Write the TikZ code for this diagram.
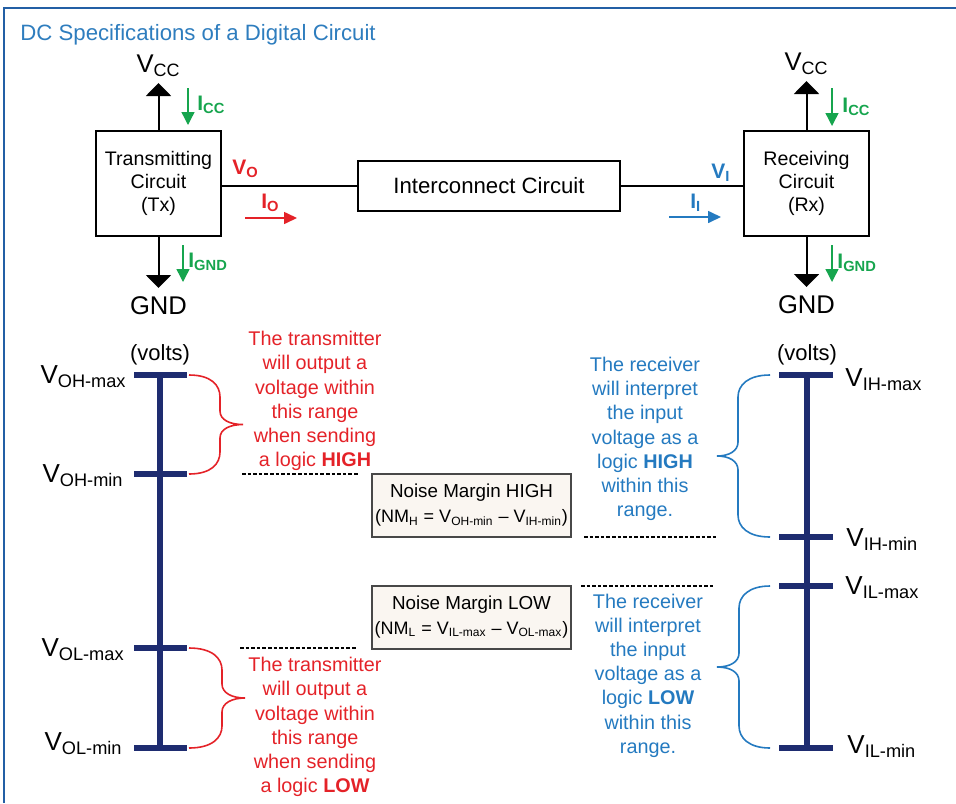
\documentclass[tikz,border=0pt]{standalone}
\usepackage{fontspec}
\setmainfont{Liberation Sans}
\usepackage{xcolor}
\usetikzlibrary{positioning, arrows.meta}

\definecolor{titleblue}{RGB}{46,125,190}
\definecolor{frameblue}{RGB}{35,95,165}
\definecolor{txred}{RGB}{228,34,40}
\definecolor{rxblue}{RGB}{36,122,192}
\definecolor{curgreen}{RGB}{22,165,78}
\definecolor{barnavy}{RGB}{30,44,112}
\definecolor{marginfill}{RGB}{250,246,241}
\definecolor{margindraw}{RGB}{72,72,72}

\newcommand{\subtxt}[1]{\textsubscript{#1}}

\begin{document}
\begin{tikzpicture}[x=0.5pt, y=-0.5pt]
	% Define styles
	\tikzset{
		block/.style={rectangle, draw, line width=1pt, align=center, inner sep=0pt, minimum width=62.5pt, minimum height=52.5pt, font=\fontsize{9.8}{11.5}\selectfont},
		wire/.style={draw, line width=1pt},
		rail/.style={draw, line width=1pt, -{Triangle[length=6.5pt, width=12.5pt]}},
		railtext/.style={inner sep=1pt, font=\fontsize{12.8}{14}\selectfont},
		cur/.style={draw, curgreen, line width=0.7pt, -{Triangle[length=6.5pt, width=6.5pt]}},
		curtext/.style={inner sep=0pt, curgreen, font=\fontsize{10.5}{12}\selectfont\bfseries},
		flow/.style={draw, line width=0.8pt, -{Triangle[length=6.5pt, width=6pt]}},
		scalebar/.style={draw, barnavy, line width=2.8pt},
		scaletext/.style={inner sep=0pt, font=\fontsize{13}{15}\selectfont},
		voltstext/.style={inner sep=0pt, font=\fontsize{11}{13}\selectfont},
		txnote/.style={align=center, inner sep=0pt, font=\fontsize{9.9}{12.1}\selectfont},
		rangebrace/.style={draw, line width=0.8pt},
		dashlevel/.style={draw, line width=1.2pt, dash pattern=on 1.8pt off 1pt},
		marginbox/.style={rectangle, draw=margindraw, fill=marginfill, line width=1pt, align=center, inner sep=0pt, minimum width=99.5pt, minimum height=31.5pt, font=\fontsize{9.4}{12.5}\selectfont}
	}
	\useasboundingbox (0,0) rectangle (956,803);
	
	% Frame and title
	\draw[frameblue, line width=1pt] (4,803) -- (4,8) -- (956,8);
	\node[anchor=base west, inner sep=0pt, titleblue, font=\fontsize{11.1}{13}\selectfont] (title) at (20,40) {DC Specifications of a Digital Circuit};
	
	% Nodes
	\node[block] (tx) at (158.5,183.5) {Transmitting\\Circuit\\(Tx)};
	\node[block, minimum width=131pt, minimum height=25pt, font=\fontsize{11.1}{13}\selectfont] (ic) at (489,186) {Interconnect Circuit};
	\node[block] (rx) at (806.5,183.5) {Receiving\\Circuit\\(Rx)};
	
	\coordinate (txvcc) at (158.5,83);
	\coordinate (txgnd) at (158.5,288);
	\coordinate (rxvcc) at (806.5,81);
	\coordinate (rxgnd) at (806.5,287);
	
	\node[railtext, above=2pt of txvcc] (txvcclbl) {V\subtxt{CC}};
	\node[railtext, below=3pt of txgnd] (txgndlbl) {GND};
	\node[railtext, above=2pt of rxvcc] (rxvcclbl) {V\subtxt{CC}};
	\node[railtext, below=3pt of rxgnd] (rxgndlbl) {GND};
	
	\coordinate (txicca) at (188,88);
	\coordinate (txiccb) at (188,125);
	\coordinate (txignda) at (183,245);
	\coordinate (txigndb) at (183,282);
	\coordinate (rxicca) at (832,88);
	\coordinate (rxiccb) at (832,126);
	\coordinate (rxignda) at (832,245);
	\coordinate (rxigndb) at (832,282);
	
	\node[curtext, anchor=base west] (txicc) at (197,110) {I\subtxt{CC}};
	\node[curtext, anchor=base west] (txignd) at (188,267) {I\subtxt{GND}};
	\node[curtext, anchor=base west] (rxicc) at (842,112) {I\subtxt{CC}};
	\node[curtext, anchor=base west] (rxignd) at (837,268) {I\subtxt{GND}};
	
	\coordinate (ioa) at (245,218);
	\coordinate (iob) at (297,218);
	\coordinate (iia) at (669,217);
	\coordinate (iib) at (721,217);
	
	\node[curtext, txred, anchor=base west] (vo) at (232,174) {V\subtxt{O}};
	\node[curtext, txred, anchor=base west] (io) at (261,208) {I\subtxt{O}};
	\node[curtext, rxblue, anchor=base west] (vi) at (711,178) {V\subtxt{I}};
	\node[curtext, rxblue, anchor=base west] (ii) at (690,208) {I\subtxt{I}};
	
	% Arrows
	\draw[wire] (tx.east |- ic.west) -- (ic.west);
	\draw[wire] (ic.east) -- (ic.east -| rx.west);
	
	\draw[rail] (tx.north) -- (txvcc);
	\draw[rail] (tx.south) -- (txgnd);
	\draw[rail] (rx.north) -- (rxvcc);
	\draw[rail] (rx.south) -- (rxgnd);
	
	\draw[cur] (txicca) -- (txiccb);
	\draw[cur] (txignda) -- (txigndb);
	\draw[cur] (rxicca) -- (rxiccb);
	\draw[cur] (rxignda) -- (rxigndb);
	
	\draw[flow, txred] (ioa) -- (iob);
	\draw[flow, rxblue] (iia) -- (iib);
	
	% Voltage scales
	\draw[scalebar] (160,375) -- (160,748);
	\draw[scalebar] (134,375) -- (187,375);
	\draw[scalebar] (134,474) -- (187,474);
	\draw[scalebar] (134,648) -- (187,648);
	\draw[scalebar] (134,748) -- (187,748);
	
	\draw[scalebar] (807,375) -- (807,748);
	\draw[scalebar] (779,375) -- (833,375);
	\draw[scalebar] (779,537) -- (833,537);
	\draw[scalebar] (779,586) -- (833,586);
	\draw[scalebar] (779,748) -- (833,748);
	
	\node[voltstext, anchor=base] (txvolts) at (160,360) {(volts)};
	\node[voltstext, anchor=base] (rxvolts) at (807,360) {(volts)};
	
	\node[scaletext, anchor=base east] (ohmax) at (127,383) {V\subtxt{OH-max}};
	\node[scaletext, anchor=base east] (ohmin) at (124,482) {V\subtxt{OH-min}};
	\node[scaletext, anchor=base east] (olmax) at (125,656) {V\subtxt{OL-max}};
	\node[scaletext, anchor=base east] (olmin) at (123,750) {V\subtxt{OL-min}};
	\node[scaletext, anchor=base west] (ihmax) at (845,386) {V\subtxt{IH-max}};
	\node[scaletext, anchor=base west] (ihmin) at (846,546) {V\subtxt{IH-min}};
	\node[scaletext, anchor=base west] (ilmax) at (845,594) {V\subtxt{IL-max}};
	\node[scaletext, anchor=base west] (ilmin) at (847,753) {V\subtxt{IL-min}};
	
	% Braces
	\draw[rangebrace, txred] (189,375) .. controls (211,375) and (220,385) .. (220,397) -- (220,411) .. controls (220,420) and (230,424.5) .. (243,424.5) .. controls (230,424.5) and (220,429) .. (220,438) -- (220,452) .. controls (220,464) and (211,474) .. (189,474);
	\draw[rangebrace, txred] (189,648) .. controls (212,648) and (222,658) .. (222,670) -- (222,684) .. controls (222,693) and (232,698) .. (245,698) .. controls (232,698) and (222,703) .. (222,712) -- (222,726) .. controls (222,738) and (212,748) .. (189,748);
	\draw[rangebrace, rxblue] (770,375) .. controls (748,375) and (738,385) .. (738,397) -- (738,442) .. controls (738,451) and (729,456) .. (717,456) .. controls (729,456) and (738,461) .. (738,470) -- (738,515) .. controls (738,527) and (748,537) .. (770,537);
	\draw[rangebrace, rxblue] (770,586) .. controls (749,586) and (739,596) .. (739,608) -- (739,653) .. controls (739,662) and (730,667) .. (717,667) .. controls (730,667) and (739,672) .. (739,681) -- (739,726) .. controls (739,738) and (749,748) .. (770,748);
	
	% Levels
	\draw[dashlevel] (242,474) -- (358,474);
	\draw[dashlevel] (240,648) -- (357,648);
	\draw[dashlevel] (584,537) -- (718,537);
	\draw[dashlevel] (581,586) -- (715,586);
	
	\node[marginbox] (nmh) at (471.5,505.5) {Noise Margin HIGH\\{\fontsize{9}{12.5}\selectfont(NM\subtxt{H} = V\subtxt{OH-min} – V\subtxt{IH-min})}};
	\node[marginbox] (nml) at (471.5,617) {Noise Margin LOW\\{\fontsize{9}{12.5}\selectfont(NM\subtxt{L} = V\subtxt{IL-max} – V\subtxt{OL-max})}};
	
	% Notes
	\node[txnote, txred] (txhigh) at (315,401) {The transmitter\\will output a\\voltage within\\this range\\when sending\\a logic \textbf{HIGH}};
	\node[txnote, txred] (txlow) at (315,727) {The transmitter\\will output a\\voltage within\\this range\\when sending\\a logic \textbf{LOW}};
	\node[txnote, rxblue] (rxhigh) at (645,439) {The receiver\\will interpret\\the input\\voltage as a\\logic \textbf{HIGH}\\within this\\range.};
	\node[txnote, rxblue] (rxlow) at (648,675.5) {The receiver\\will interpret\\the input\\voltage as a\\logic \textbf{LOW}\\within this\\range.};
	
\end{tikzpicture}
\end{document}
